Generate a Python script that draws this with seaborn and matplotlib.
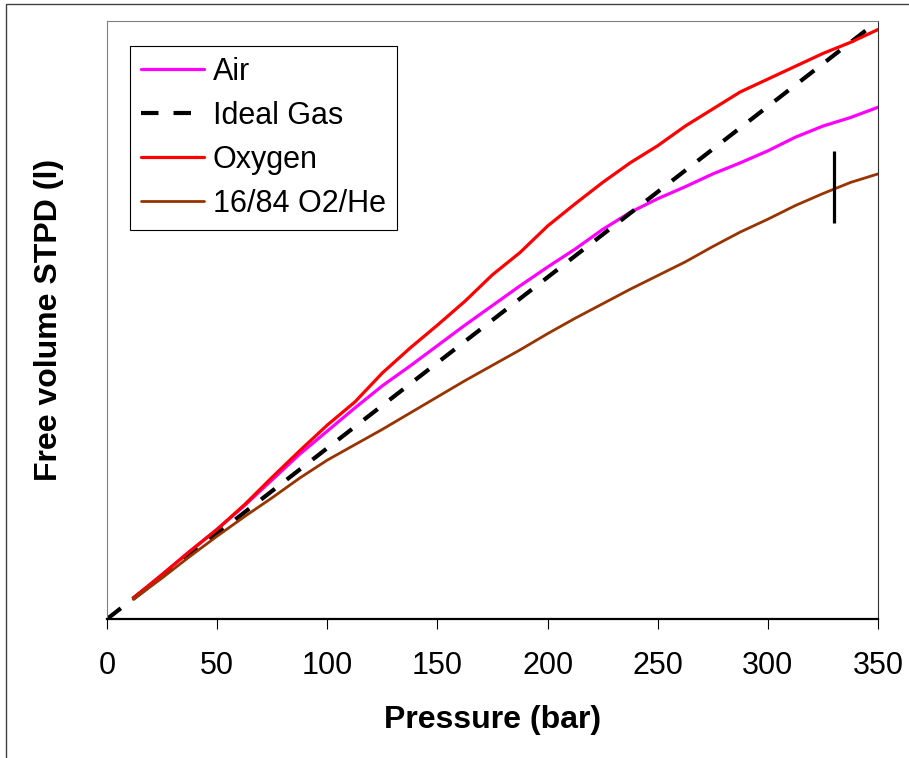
import matplotlib
matplotlib.use("Agg")
import matplotlib.pyplot as plt
import seaborn as sns
from matplotlib.patches import Rectangle

# Pressure (bar) and free gas volume for each gas
pressure = [12, 25, 37.5, 50, 62.5, 75, 87.5, 100, 112.5, 125, 137.5, 150, 162.5, 175,
            187.5, 200, 212.5, 225, 237.5, 250, 262.5, 275, 287.5, 300, 312.5, 325, 337.5, 350]
air = [12.3, 26, 39.5, 52.5, 66.5, 81.5, 96.5, 110, 123.5, 136.5, 148, 160, 172, 183.5,
       195, 206, 216.5, 228, 238, 246, 253, 260.5, 267, 274, 282, 288.5, 293.5, 299.5]
oxygen = [12.3, 26, 39.5, 52.5, 67, 83, 98.5, 113.5, 127, 144, 158.5, 172, 186, 201.5,
          214.5, 230, 243, 255.5, 267, 277, 288.5, 298.5, 308.5, 316, 323.5, 331, 337.5, 345]
heliox = [11.5, 24, 36.5, 48.5, 60, 71, 82.5, 93, 102, 111, 120.5, 130, 139.5, 148.5,
          157.5, 167, 176, 184.5, 193, 201, 209, 218, 226.5, 234, 242, 249, 255.5, 260.5]
ideal_p = [0, 350]
ideal_v = [0, 350]

# vertical marker near the heliox curve
marker_p = 330
marker_lo, marker_hi = 232, 274

x_ticks = [0, 50, 100, 150, 200, 250, 300, 350]

sns.set_style("white")
plt.rcParams['font.family'] = ['Liberation Sans', 'DejaVu Sans']
plt.rcParams['text.color'] = 'black'
plt.rcParams['axes.labelcolor'] = 'black'

fig = plt.figure(figsize=(9.09, 7.58), dpi=100)
ax = fig.add_axes([107 / 909, 1 - 619 / 758, 771 / 909, 598 / 758])

sns.lineplot(x=pressure, y=air, ax=ax, color='#FF00FF', lw=2.3, label='Air')
sns.lineplot(x=ideal_p, y=ideal_v, ax=ax, color='black', lw=3,
             linestyle=(0, (4.2, 3.6)), label='Ideal Gas')
sns.lineplot(x=pressure, y=oxygen, ax=ax, color='#FF0000', lw=2.3, label='Oxygen')
sns.lineplot(x=pressure, y=heliox, ax=ax, color='#993300', lw=2.0, label='16/84 O2/He')
ax.vlines(marker_p, marker_lo, marker_hi, color='black', lw=2.3)

ax.set_xlim(0, 350)
ax.set_ylim(0, 350)
ax.set_xticks(x_ticks)
ax.set_xticklabels([str(t) for t in x_ticks])
ax.set_yticks([])
ax.tick_params(axis='x', direction='out', length=7, width=0.8, colors='black',
               labelsize=22, pad=16, bottom=True)

ax.set_xlabel('Pressure (bar)', fontsize=23, fontweight='bold', labelpad=17.5)
ax.set_ylabel('Free volume STPD (l)', fontsize=23, fontweight='bold', labelpad=31)

for side in ['left', 'top']:
    ax.spines[side].set_color('#808080')
    ax.spines[side].set_linewidth(0.8)
ax.spines['right'].set_color('#303030')
ax.spines['right'].set_linewidth(0.8)
ax.spines['bottom'].set_color('black')
ax.spines['bottom'].set_linewidth(1.6)

leg = ax.legend(loc='upper left', bbox_to_anchor=(23 / 771, (619 - 46) / 598),
                borderaxespad=0, fontsize=22, frameon=True, fancybox=False,
                handlelength=2.05, handletextpad=0.3, labelspacing=0.46, borderpad=0.36)
leg.get_frame().set_edgecolor('black')
leg.get_frame().set_linewidth(0.8)
leg.get_frame().set_alpha(1)

# outer chart border (right and bottom edges fall outside the image)
fig.add_artist(Rectangle((6 / 909, -0.05), 1.1, 1.05 - 4 / 758, transform=fig.transFigure,
                         fill=False, edgecolor='#404040', lw=1.0))

fig.savefig('out.png', dpi=100)
